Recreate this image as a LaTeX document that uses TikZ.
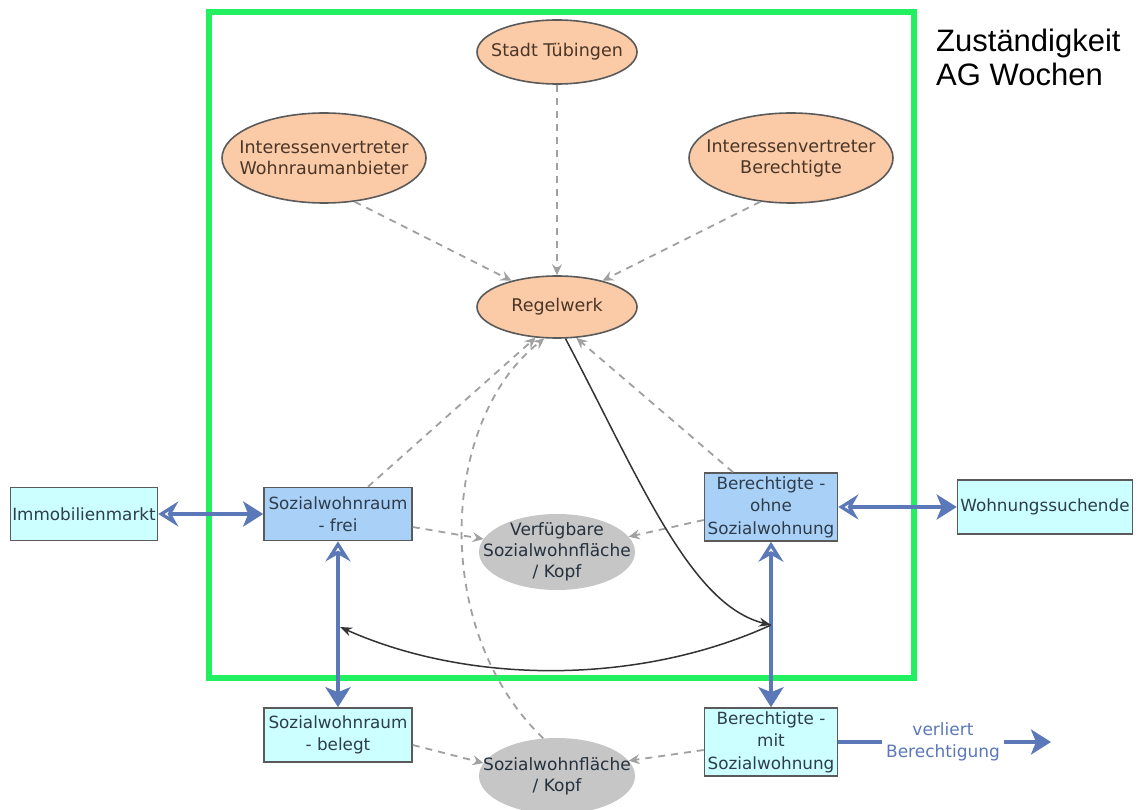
\documentclass[tikz,border=0pt]{standalone}
\usepackage{fontspec}
\setmainfont{DejaVu Sans}
\newfontfamily\headfont{Liberation Sans}
\usetikzlibrary{shapes.geometric,arrows.meta}
\definecolor{peach}{HTML}{FBCBA8}
\definecolor{lblue}{HTML}{A9D1F7}
\definecolor{lcyan}{HTML}{CCFFFF}
\definecolor{grayell}{HTML}{C6C6C6}
\definecolor{edgegray}{HTML}{5A5A5A}
\definecolor{brownt}{HTML}{4A3526}
\definecolor{boxt}{HTML}{2E3D4C}
\definecolor{flowblue}{HTML}{5B78B8}
\definecolor{dashgray}{HTML}{A0A0A0}
\definecolor{frame}{HTML}{22F060}
\tikzset{
  x=1pt, y=-1pt,
  ell/.style={ellipse, draw=edgegray, line width=1.6pt, fill=peach, inner sep=0pt},
  elltext/.style={text=brownt, align=center, inner sep=0pt, font=\fontsize{17.5}{21}\selectfont},
  grayel/.style={ellipse, fill=grayell, inner sep=0pt, minimum width=156, minimum height=76},
  graytext/.style={text=boxt!80!black, align=center, inner sep=0pt, font=\fontsize{17}{21}\selectfont},
  boxn/.style={rectangle, draw=edgegray, line width=1.6pt, inner sep=0pt,
    text=boxt, align=center, font=\fontsize{16.8}{22.5}\selectfont},
  flow/.style={draw=flowblue, line width=4pt},
  dbl/.style={flow, {Stealth[open,length=20pt,width=25pt,inset=7pt]}-{Stealth[length=20pt,width=25pt,inset=5pt]}},
  dep/.style={draw=dashgray, line width=1.8pt, dash pattern=on 7pt off 6pt,
    -{Stealth[length=11pt,width=10pt,inset=4pt]}},
  ctrl/.style={draw=black!80, line width=1.5pt, -{Stealth[length=12pt,width=9pt]}},
}
\begin{document}
\begin{tikzpicture}
\useasboundingbox (0,0) rectangle (1137,810);
\fill[white] (0,0) rectangle (1137,810);
% frame
\draw[frame, line width=5.5pt] (209,12) rectangle (914,678);
\node[anchor=north west, inner sep=0pt, align=left, font=\headfont\fontsize{31}{34}\selectfont] (zust) at (936,29) {Zuständigkeit\\AG Wochen};

% ellipses
\node[ell, minimum width=160, minimum height=64] (stadt) at (557,52) {};
\node[elltext] (stadtt) at (stadt) {Stadt Tübingen};
\node[ell, minimum width=204, minimum height=90] (ivw) at (324,158) {};
\node[elltext] (ivwt) at (ivw) {Interessenvertreter\\Wohnraumanbieter};
\node[ell, minimum width=204, minimum height=90] (ivb) at (791,158) {};
\node[elltext] (ivbt) at (ivb) {Interessenvertreter\\Berechtigte};
\node[ell, minimum width=160, minimum height=62] (regel) at (557,307) {};
\node[elltext] (regelt) at (regel) {Regelwerk};

% boxes
\node[boxn, fill=lcyan, minimum width=147, minimum height=53] (immo) at (84,514) {Immobilienmarkt};
\node[boxn, fill=lblue, minimum width=148, minimum height=53] (frei) at (338,514) {Sozialwohnraum\\- frei};
\node[boxn, fill=lblue, minimum width=133, minimum height=68] (ohne) at (771,507) {Berechtigte -\\ohne\\Sozialwohnung};
\node[boxn, fill=lcyan, minimum width=175, minimum height=54] (such) at (1045,507) {Wohnungssuchende};
\node[boxn, fill=lcyan, minimum width=148, minimum height=54] (belegt) at (338,735) {Sozialwohnraum\\- belegt};
\node[boxn, fill=lcyan, minimum width=133, minimum height=68] (mit) at (771,742) {Berechtigte -\\mit\\Sozialwohnung};

% gray ellipses
\node[grayel] (verf) at (557,552) {};
\node[graytext] (verft) at (verf) {Verfügbare\\Sozialwohnfläche\\/ Kopf};
\node[grayel] (swf) at (557,776) {};
\node[graytext] (swft) at (swf) {Sozialwohnfläche\\/ Kopf};

% text label
\node[text=flowblue, align=center, inner sep=4pt, font=\fontsize{17}{22}\selectfont] (verl) at (943,742) {verliert\\Berechtigung};

% dashed dependencies
\draw[dep] (stadt.south) -- (regel.north);
\draw[dep] (ivw.-55) -- (regel.150);
\draw[dep] (ivb.-125) -- (regel.30);
\draw[dep] ([xshift=30pt]frei.north) -- (regel.-125);
\draw[dep] ([xshift=-38pt]ohne.north) -- (regel.-58);
\draw[dep] ([yshift=-13pt]frei.east) -- (verf.170);
\draw[dep] ([yshift=-13pt]ohne.west) -- (verf.12);
\draw[dep] ([yshift=-10pt]belegt.east) -- (swf.170);
\draw[dep] ([yshift=-8pt]mit.west) -- (swf.12);
\draw[dep] (swf.110) .. controls (430,630) and (440,420) .. (regel.-112);

% blue flows
\coordinate (j) at (771,625);
\coordinate (k) at (340,627);
\draw[dbl] (immo.east) -- (frei.west);
\draw[dbl] (ohne.east) -- (such.west);
\draw[dbl] (frei.south) -- (belegt.north);
\draw[dbl] (ohne.south) -- (mit.north);
\draw[flow] (mit.east) -- (verl.west);
\coordinate (vend) at (1051,742);
\draw[flow, -{Stealth[length=20pt,width=25pt,inset=5pt]}] (verl.east) -- (vend);

% black control curves
\draw[ctrl] (regel.-75) .. controls (640,480) and (690,605) .. (j);
\draw[ctrl] (j) .. controls (640,685) and (470,685) .. (k);
\end{tikzpicture}
\end{document}
